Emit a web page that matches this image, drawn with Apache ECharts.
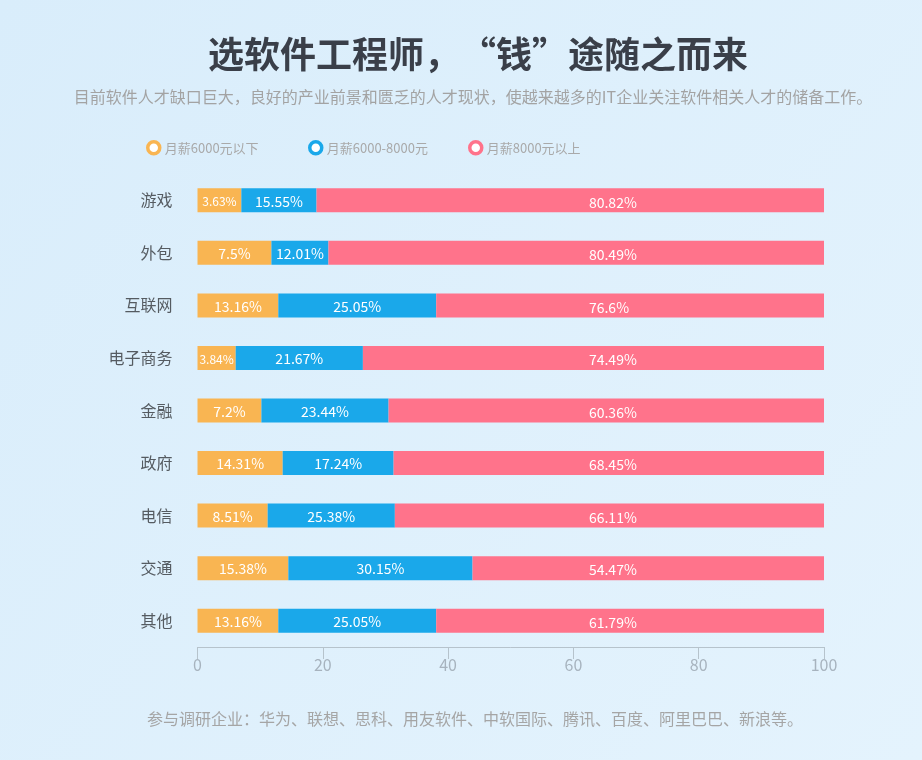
<!DOCTYPE html>
<html>
<head>
<meta charset="utf-8">
<script src="https://cdn.jsdelivr.net/npm/echarts@6/dist/echarts.min.js"></script>
<style>
html,body{margin:0;padding:0;width:922px;height:760px;overflow:hidden;background:#dfeffc;}
#chart{width:922px;height:760px;}
</style>
</head>
<body>
<div id="chart"></div>
<script>
// categories (top to bottom)
const categories = ['游戏','外包','互联网','电子商务','金融','政府','电信','交通','其他'];
const seriesNames = ['月薪6000元以下','月薪6000-8000元','月薪8000元以上'];
// bar lengths as drawn in the picture (share of 100)
const lowBar  = [7.0, 11.8, 12.9, 6.1, 10.2, 13.6, 11.2, 14.5, 12.9];
const midBar  = [12.0, 9.1, 25.2, 20.3, 20.3, 17.7, 20.3, 29.4, 25.2];
const highBar = [81.0, 79.1, 61.9, 73.6, 69.5, 68.7, 68.5, 56.1, 61.9];
// percentages printed on the bars
const lowPct  = [3.63, 7.5, 13.16, 3.84, 7.2, 14.31, 8.51, 15.38, 13.16];
const midPct  = [15.55, 12.01, 25.05, 21.67, 23.44, 17.24, 25.38, 30.15, 25.05];
const highPct = [80.82, 80.49, 76.6, 74.49, 60.36, 68.45, 66.11, 54.47, 61.79];
// value axis ticks
const xTicks = [0, 20, 40, 60, 80, 100];

const colors = ['#f9b552', '#1aa8ea', '#ff738b'];
const FONT = '"Noto Sans CJK SC", "Noto Sans", sans-serif';
const legendLefts = [141, 303, 463];

function barData(vals, pcts) {
  return vals.map((v, i) => ({
    value: v,
    label: { fontSize: pcts[i] < 5 ? 12 : 14 },
    pct: pcts[i]
  }));
}

const chart = echarts.init(document.getElementById('chart'), null, {renderer: 'canvas'});
const option = {
  backgroundColor: {
    type: 'linear', x: 0, y: 0, x2: 1, y2: 1,
    colorStops: [{offset: 0, color: '#d9edfb'}, {offset: 1, color: '#e4f3fd'}]
  },
  textStyle: { fontFamily: FONT },
  title: [
    {
      text: '选软件工程师，“钱”途随之而来',
      left: 473, top: 31, textAlign: 'center',
      textStyle: { fontSize: 36, fontWeight: 'bold', color: '#3a3f49', fontFamily: FONT }
    },
    {
      text: '目前软件人才缺口巨大，良好的产业前景和匮乏的人才现状，使越来越多的IT企业关注软件相关人才的储备工作。',
      left: 468, top: 84, textAlign: 'center',
      textStyle: { fontSize: 16, fontWeight: 'normal', color: '#a3a3a3', fontFamily: FONT }
    },
    {
      text: '参与调研企业：华为、联想、思科、用友软件、中软国际、腾讯、百度、阿里巴巴、新浪等。',
      left: 470, top: 706, textAlign: 'center',
      textStyle: { fontSize: 16, fontWeight: 'normal', color: '#a5a5a5', fontFamily: FONT }
    }
  ],
  legend: seriesNames.map((n, i) => ({
    left: legendLefts[i], top: 135,
    itemWidth: 12, itemHeight: 12,
    data: [{
      name: n, icon: 'circle',
      itemStyle: { color: '#ffffff', borderColor: colors[i], borderWidth: 3.5 }
    }],
    textStyle: { fontSize: 13, color: '#a9a9a9', fontFamily: FONT },
    selectedMode: false
  })),
  grid: { left: 197.5, right: 98, top: 174, bottom: 113, containLabel: false },
  xAxis: {
    type: 'value', min: xTicks[0], max: xTicks[xTicks.length - 1], interval: xTicks[1] - xTicks[0],
    axisLine: { show: true, lineStyle: { color: '#b6c3cc', width: 1 } },
    axisTick: { show: true, length: 12, lineStyle: { color: '#b6c3cc' } },
    axisLabel: { fontSize: 16, color: '#a7b3be', margin: 10 },
    splitLine: { show: false }
  },
  yAxis: [{
    type: 'category', data: categories, inverse: true,
    axisLine: { show: false }, axisTick: { show: false },
    axisLabel: { fontSize: 16, color: '#555b61', margin: 25 }
  }],
  series: [
    {
      name: seriesNames[0], type: 'bar', stack: 'all', barWidth: 24,
      itemStyle: { color: colors[0] },
      label: { show: true, position: 'inside', color: '#fff', offset: [0, 1],
        formatter: p => p.data.pct + '%' },
      data: barData(lowBar, lowPct)
    },
    {
      name: seriesNames[1], type: 'bar', stack: 'all', barWidth: 24,
      itemStyle: { color: colors[1] },
      label: { show: true, position: 'inside', color: '#fff', offset: [0, 1],
        formatter: p => p.data.pct + '%' },
      data: barData(midBar, midPct)
    },
    {
      name: seriesNames[2], type: 'bar', stack: 'all', barWidth: 24,
      itemStyle: { color: colors[2] },
      label: { show: false },
      data: highBar
    },
    {
      name: 'pinkLabels', type: 'scatter', symbolSize: 1,
      itemStyle: { color: 'rgba(0,0,0,0)' }, silent: true, z: 5,
      emphasis: { disabled: true },
      label: { show: true, position: 'right', distance: 0, color: '#ffffff', opacity: 1,
        fontSize: 14, offset: [0, 2], textBorderWidth: 0,
        formatter: p => highPct[p.dataIndex] + '%' },
      data: categories.map(c => [62.4, c])
    }
  ]
};
chart.setOption(option);
</script>
</body>
</html>
